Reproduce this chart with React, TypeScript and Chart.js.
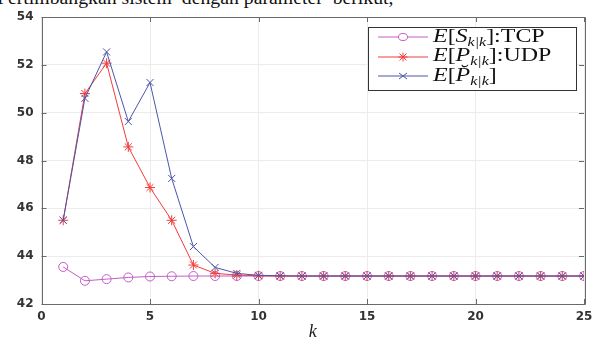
import React, { useEffect, useRef } from "react";
import { Chart, registerables } from "chart.js";

Chart.register(...registerables);

const kValues = [1, 2, 3, 4, 5, 6, 7, 8, 9, 10, 11, 12, 13, 14, 15, 16, 17, 18, 19, 20, 21, 22, 23, 24, 25];
const tcpValues = [43.55, 42.97, 43.04, 43.11, 43.15, 43.16, 43.17, 43.17, 43.17, 43.17, 43.17, 43.17, 43.17, 43.17, 43.17, 43.17, 43.17, 43.17, 43.17, 43.17, 43.17, 43.17, 43.17, 43.17, 43.17];
const udpValues = [45.5, 50.8, 52.07, 48.57, 46.87, 45.5, 43.63, 43.28, 43.21, 43.18, 43.17, 43.17, 43.17, 43.17, 43.17, 43.17, 43.17, 43.17, 43.17, 43.17, 43.17, 43.17, 43.17, 43.17, 43.17];
const checkValues = [45.5, 50.6, 52.54, 49.63, 51.26, 47.25, 44.4, 43.53, 43.28, 43.2, 43.18, 43.17, 43.17, 43.17, 43.17, 43.17, 43.17, 43.17, 43.17, 43.17, 43.17, 43.17, 43.17, 43.17, 43.17];
const xTicks = [0, 5, 10, 15, 20, 25];
const yTicks = [42, 44, 46, 48, 50, 52, 54];

const purple = "#c25ec6";
const red = "#f23c3c";
const blue = "#4b56aa";
const tickFont = { family: "'DejaVu Sans', sans-serif", size: 12, weight: "bold" as const };

const framePlugin = {
  id: "frame",
  afterDraw(chart: any) {
    const { ctx, chartArea } = chart;
    const { left, right, top, bottom } = chartArea;
    const xs = chart.scales.x;
    const ys = chart.scales.y;
    ctx.save();
    ctx.strokeStyle = "#6a6a6a";
    ctx.lineWidth = 1;
    ctx.beginPath();
    ctx.rect(Math.round(left) + 0.5, Math.round(top) + 0.5, Math.round(right - left), Math.round(bottom - top));
    ctx.stroke();
    ctx.beginPath();
    for (const t of xTicks) {
      const px = Math.round(xs.getPixelForValue(t)) + 0.5;
      ctx.moveTo(px, bottom);
      ctx.lineTo(px, bottom - 5);
      ctx.moveTo(px, top);
      ctx.lineTo(px, top + 5);
    }
    for (const t of yTicks) {
      const py = Math.round(ys.getPixelForValue(t)) + 0.5;
      ctx.moveTo(left, py);
      ctx.lineTo(left + 5, py);
      ctx.moveTo(right, py);
      ctx.lineTo(right - 5, py);
    }
    ctx.stroke();
    ctx.fillStyle = "#222";
    ctx.font = "italic 18px 'Liberation Serif', serif";
    ctx.textAlign = "center";
    ctx.textBaseline = "alphabetic";
    ctx.fillText("k", (left + right) / 2, 337);
    ctx.restore();
  },
};

function Marker({ kind, color }: { kind: string; color: string }) {
  return (
    <svg width={52} height={12} style={{ display: "block" }}>
      <line x1={0} y1={6} x2={50} y2={6} stroke={color} strokeWidth={1} />
      {kind === "circle" && <ellipse cx={25} cy={6} rx={4.5} ry={3.5} fill="white" stroke={color} strokeWidth={1} />}
      {kind === "star" && (
        <g stroke={color} strokeWidth={1}>
          <line x1={20.5} y1={6} x2={29.5} y2={6} />
          <line x1={25} y1={1.5} x2={25} y2={10.5} />
          <line x1={21.5} y1={2.5} x2={28.5} y2={9.5} />
          <line x1={21.5} y1={9.5} x2={28.5} y2={2.5} />
        </g>
      )}
      {kind === "cross" && (
        <g stroke={color} strokeWidth={1}>
          <line x1={21} y1={3} x2={29} y2={9} />
          <line x1={21} y1={9} x2={29} y2={3} />
        </g>
      )}
    </svg>
  );
}

export default function App() {
  const canvasRef = useRef<HTMLCanvasElement | null>(null);

  useEffect(() => {
    const canvas = canvasRef.current;
    if (!canvas) return;
    const mk = (vals: number[]) => kValues.map((k, i) => ({ x: k, y: vals[i] }));
    const chart = new Chart(canvas, {
      type: "line",
      data: {
        datasets: [
          {
            label: "TCP",
            data: mk(tcpValues),
            borderColor: purple,
            backgroundColor: "rgba(0,0,0,0)",
            borderWidth: 1,
            pointStyle: "circle",
            pointRadius: 4.5,
            pointBorderWidth: 1,
            pointBorderColor: purple,
            pointBackgroundColor: "rgba(0,0,0,0)",
            order: 3,
          },
          {
            label: "UDP",
            data: mk(udpValues),
            borderColor: red,
            backgroundColor: red,
            borderWidth: 1,
            pointStyle: "star",
            pointRadius: 5,
            pointBorderWidth: 1,
            pointBorderColor: red,
            order: 2,
          },
          {
            label: "Pcheck",
            data: mk(checkValues),
            borderColor: blue,
            backgroundColor: blue,
            borderWidth: 1,
            pointStyle: "crossRot",
            pointRadius: 5,
            pointBorderWidth: 1,
            pointBorderColor: blue,
            order: 1,
          },
        ],
      },
      options: {
        animation: false,
        responsive: false,
        maintainAspectRatio: false,
        layout: { padding: { left: 0, right: 19, top: 17, bottom: 0 } },
        plugins: { legend: { display: false }, tooltip: { enabled: false } },
        elements: { line: { tension: 0 } },
        scales: {
          x: {
            type: "linear",
            min: 0,
            max: 25,
            afterBuildTicks: (s: any) => { s.ticks = xTicks.map((v) => ({ value: v })); },
            afterFit: (s: any) => { s.height = 34; },
            grid: { color: "#ececec", drawTicks: false },
            border: { display: false },
            ticks: { font: tickFont, color: "#333", padding: 6, maxRotation: 0 },
          },
          y: {
            type: "linear",
            min: 42,
            max: 54,
            afterBuildTicks: (s: any) => { s.ticks = yTicks.map((v) => ({ value: v })); },
            afterFit: (s: any) => { s.width = 41.5; },
            grid: { color: "#ececec", drawTicks: false },
            border: { display: false },
            ticks: { font: tickFont, color: "#333", padding: 8 },
          },
        },
      },
      plugins: [framePlugin],
    });
    return () => chart.destroy();
  }, []);

  const legendText: React.CSSProperties = {
    position: "absolute",
    left: 64,
    fontFamily: "'Liberation Serif', 'DejaVu Serif', serif",
    fontSize: 18,
    color: "#111",
    whiteSpace: "nowrap",
    lineHeight: "20px",
    transform: "scaleX(1.33)",
    transformOrigin: "left center",
  };
  const sub: React.CSSProperties = { fontSize: 12, verticalAlign: "-4px", fontStyle: "italic" };

  const rows = [
    { kind: "circle", color: purple, center: 37, baseline: 41.5, text: <><i>E</i>[<i>S</i><span style={sub}>k|k</span>]:TCP</> },
    { kind: "star", color: red, center: 56.5, baseline: 61, text: <><i>E</i>[<i>P</i><span style={sub}>k|k</span>]:UDP</> },
    { kind: "cross", color: blue, center: 76, baseline: 80.5, text: <><i>E</i>[<i>P̆</i><span style={sub}>k|k</span>]</> },
  ];

  return (
    <div style={{ position: "fixed", left: 0, top: 0, width: 603, height: 338, overflow: "hidden", background: "white" }}>
      <div
        style={{
          position: "absolute",
          left: -3,
          top: -12.5,
          fontFamily: "'Liberation Serif', serif",
          fontSize: 19.75,
          lineHeight: "19.75px",
          whiteSpace: "pre",
          color: "#111",
        }}
      >
        Pertimbangkan sistem  dengan parameter  berikut,
      </div>
      <canvas ref={canvasRef} width={603} height={338} style={{ position: "absolute", left: 0, top: 0 }} />
      <div
        style={{
          position: "absolute",
          left: 368,
          top: 27,
          width: 209,
          height: 64,
          border: "1px solid #333",
          background: "white",
          boxSizing: "border-box",
        }}
      >
        {rows.map((row, i) => (
          <React.Fragment key={i}>
            <div style={{ position: "absolute", left: 9, top: row.center - 6 - 28 }}>
              <Marker kind={row.kind} color={row.color} />
            </div>
            <span style={{ ...legendText, top: row.baseline - 16 - 28 }}>{row.text}</span>
          </React.Fragment>
        ))}
      </div>
    </div>
  );
}
